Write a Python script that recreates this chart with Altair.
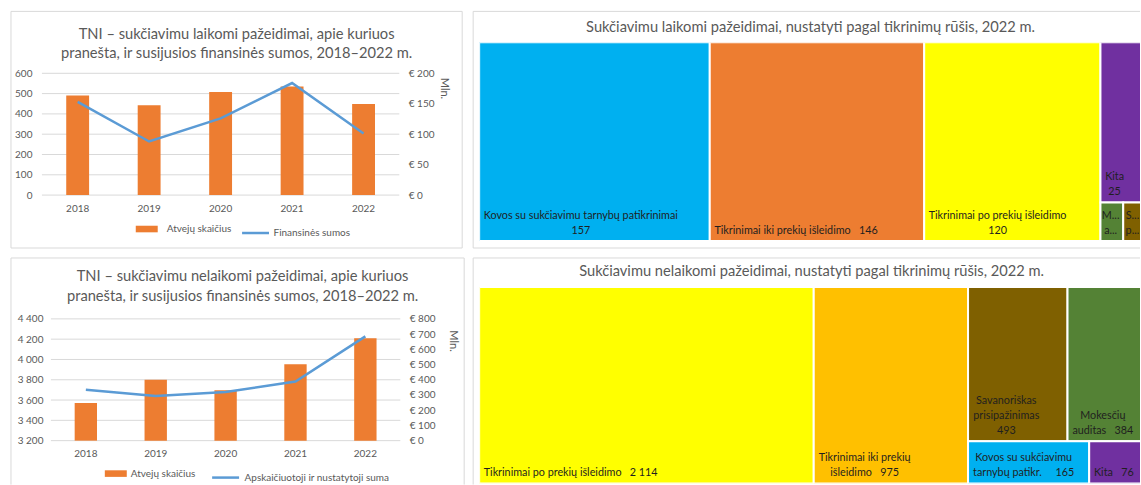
import altair as alt
import pandas as pd

# ---------------- data ----------------
years = ["2018", "2019", "2020", "2021", "2022"]
fraud_cases = [491, 442, 508, 535, 449]
fraud_sums = [153, 88, 126, 184, 101]
nonfraud_cases = [3571, 3800, 3696, 3954, 4210]
nonfraud_sums = [334, 293, 319, 389, 685]

title1 = "TNI – sukčiavimu laikomi pažeidimai, apie kuriuos\npranešta, ir susijusios finansinės sumos, 2018–2022 m."
title2 = "TNI – sukčiavimu nelaikomi pažeidimai, apie kuriuos\npranešta, ir susijusios finansinės sumos, 2018–2022 m."
title3 = "Sukčiavimu laikomi pažeidimai, nustatyti pagal tikrinimų rūšis, 2022 m."
title4 = "Sukčiavimu nelaikomi pažeidimai, nustatyti pagal tikrinimų rūšis, 2022 m."

bar_label = "Atvejų skaičius"
line_label1 = "Finansinės sumos"
line_label2 = "Apskaičiuotoji ir nustatytoji suma"

tm1_cats = ["Kovos su sukčiavimu tarnybų patikrinimai", "Tikrinimai iki prekių išleidimo",
            "Tikrinimai po prekių išleidimo", "Kita", "Mokesčių auditas", "Savanoriškas prisipažinimas"]
tm1_vals = [157, 146, 120, 25, 3, 3]
tm1_labels = ["Kovos su sukčiavimu tarnybų patikrinimai\n157", "Tikrinimai iki prekių išleidimo   146",
              "Tikrinimai po prekių išleidimo\n120", "Kita\n25", "M...\na...", "S...\np..."]
tm1_colors = ["#00B0F0", "#ED7D31", "#FFFF00", "#7030A0", "#548235", "#7F6000"]

tm2_cats = ["Tikrinimai po prekių išleidimo", "Tikrinimai iki prekių išleidimo", "Savanoriškas prisipažinimas",
            "Mokesčių auditas", "Kovos su sukčiavimu tarnybų patikrinimai", "Kita"]
tm2_vals = [2114, 975, 493, 384, 165, 76]
tm2_labels = ["Tikrinimai po prekių išleidimo   2 114", "Tikrinimai iki prekių\nišleidimo   975",
              "Savanoriškas\nprisipažinimas\n493", "Mokesčių\nauditas   384",
              "Kovos su sukčiavimu\ntarnybų patikr.     165", "Kita   76"]
tm2_colors = ["#FFFF00", "#FFC000", "#7F6000", "#548235", "#00B0F0", "#7030A0"]

# ---------------- styles ----------------
FONT = "Lato"
GRAY = "#595959"
BORDER = "#D9D9D9"
ORANGE = "#ED7D31"
BLUE = "#5B9BD5"
TITLE_FS = 14.7
LABEL_FS = 10.8

# approximate advance widths (em) of Lato, used only to centre label blocks
CHAR_EM = {}
for ch in "iljìíīįĮ.,:;'|!": CHAR_EM[ch] = 0.24
for ch in "ft": CHAR_EM[ch] = 0.34
for ch in "r": CHAR_EM[ch] = 0.37
for ch in "sšz": CHAR_EM[ch] = 0.43
for ch in "cčeė": CHAR_EM[ch] = 0.48
for ch in "aąkvyx": CHAR_EM[ch] = 0.5
for ch in "bdghnopquųū": CHAR_EM[ch] = 0.55
for ch in "mw": CHAR_EM[ch] = 0.82
for ch in "0123456789": CHAR_EM[ch] = 0.58
for ch in " \u00a0": CHAR_EM[ch] = 0.26


def text_w(line, fs):
    w = 0.0
    for ch in line:
        if ch in CHAR_EM:
            w += CHAR_EM[ch]
        elif ch.isupper():
            w += 0.8 if ch in "MW" else 0.62
        else:
            w += 0.5
    return w * fs


def est_w(s, fs):
    return max(text_w(l, fs) for l in s.split("\n"))


def border_rules(left, top, right, bottom, sides):
    layers = []
    d = pd.DataFrame({"k": [0]})
    segs = {
        "top": (left, top, right, top),
        "left": (left, top, left, bottom),
        "right": (right, top, right, bottom),
        "bottom": (left, bottom, right, bottom),
    }
    for s in sides:
        a, b, c, e = segs[s]
        layers.append(alt.Chart(d).mark_rule(color=BORDER, strokeWidth=1).encode(
            x=alt.value(a), y=alt.value(b), x2=alt.value(c), y2=alt.value(e)))
    return layers


def title_text(text, x, y, lh=19):
    return alt.Chart(pd.DataFrame({"t": [text]})).mark_text(
        font=FONT, fontSize=TITLE_FS, color=GRAY, align="center", baseline="middle",
        lineBreak="\n", lineHeight=lh).encode(x=alt.value(x), y=alt.value(y), text="t:N")


def bar_panel(cases, sums, line_label, title, W, H, xrange, yrange, ydom, ystep, rdom, rstep,
              thousands, yoffset, tpos, tlh, box, sides, leg_bar, leg_line, mln):
    df = pd.DataFrame({"year": years, "cases": cases, "sums": sums,
                       "sb": bar_label, "sl": line_label})
    ticks = list(range(ydom[0], ydom[1] + 1, ystep))
    yscale = alt.Scale(domain=ydom, nice=False, zero=False, range=yrange)
    xenc = alt.X("year:N", title=None,
                 scale=alt.Scale(paddingInner=0.68, paddingOuter=0.34, range=xrange),
                 axis=alt.Axis(labelAngle=0, domain=False, ticks=False, labelPadding=8))
    lab_expr = "replace(format(datum.value, ','), ',', ' ')" if thousands else "format(datum.value, 'd')"
    grid = alt.Chart(pd.DataFrame({"g": ticks})).mark_rule(color=BORDER, strokeWidth=1).encode(
        y=alt.Y("g:Q", scale=yscale, axis=None),
        x=alt.value(xrange[0]), x2=alt.value(xrange[1]))
    bars = alt.Chart(df).mark_bar(color=ORANGE).encode(
        x=xenc,
        y=alt.Y("cases:Q", scale=yscale,
                axis=alt.Axis(values=ticks, grid=False, domain=False, ticks=False, labelPadding=8,
                              offset=yoffset, labelExpr=lab_expr, title=None)),
        y2=alt.datum(ydom[0]),
        fill=alt.Fill("sb:N", scale=alt.Scale(domain=[bar_label], range=[ORANGE]),
                      legend=alt.Legend(orient="none", legendX=leg_bar[0], legendY=leg_bar[1],
                                        title=None, padding=0, labelOffset=leg_bar[2],
                                        symbolType="M-1,-0.3L1,-0.3L1,0.3L-1,0.3Z",
                                        symbolSize=484, symbolStrokeWidth=0)),
    )
    line = alt.Chart(df).mark_line(strokeWidth=2.5).encode(
        x=xenc,
        y=alt.Y("sums:Q", scale=alt.Scale(domain=rdom, nice=False, range=yrange),
                axis=alt.Axis(orient="right", values=list(range(rdom[0], rdom[1] + 1, rstep)),
                              grid=False, domain=False, ticks=False, labelPadding=9,
                              labelExpr="'€ ' + datum.value", title="Mln.",
                              titleAngle=90, titleX=mln[0], titleY=mln[1], titleAlign="left",
                              titleBaseline="middle", titleFontSize=11, titleFontWeight="normal",
                              titleColor=GRAY)),
        stroke=alt.Stroke("sl:N", scale=alt.Scale(domain=[line_label], range=[BLUE]),
                          legend=alt.Legend(orient="none", legendX=leg_line[0], legendY=leg_line[1],
                                            title=None, padding=0, labelOffset=leg_line[2],
                                            symbolType="stroke", symbolSize=729,
                                            symbolStrokeWidth=2.5)),
    )
    layers = [grid, bars, line, title_text(title, tpos[0], tpos[1], tlh)]
    layers += border_rules(box[0], box[1], box[2], box[3], sides)
    return alt.layer(*layers).resolve_scale(y="independent").properties(width=W, height=H)


def squarify(vals, W, H):
    total = float(sum(vals))
    areas = [v * W * H / total for v in vals]
    idx = sorted(range(len(vals)), key=lambda i: -vals[i])
    rects = [None] * len(vals)
    x, y, w, h = 0.0, 0.0, float(W), float(H)

    def worst(row, side):
        s = sum(row)
        return max(max(side * side * r / (s * s), s * s / (side * side * r)) for r in row)

    while idx:
        side = min(w, h)
        row = [idx[0]]
        k = 1
        while k < len(idx):
            cand = row + [idx[k]]
            if worst([areas[i] for i in cand], side) <= worst([areas[i] for i in row], side):
                row = cand
                k += 1
            else:
                break
        s = sum(areas[i] for i in row)
        if w >= h:
            cw = s / h
            yy = y
            for i in row:
                rh = areas[i] / cw
                rects[i] = (x, x + cw, yy, yy + rh)
                yy += rh
            x += cw
            w -= cw
        else:
            rh = s / w
            xx = x
            for i in row:
                rw = areas[i] / rh
                rects[i] = (xx, xx + rw, y, y + rh)
                xx += rw
            y += rh
            h -= rh
        idx = idx[k:]
    return rects


def treemap_panel(cats, vals, labels, colors, title, Wfull, Wvis, H, tpos, box, sides):
    rects = squarify(vals, Wfull, H)
    fs = LABEL_FS
    lh = 15
    rows = []
    for c, v, lab, r in zip(cats, vals, labels, rects):
        x0, x1, y0, y1 = r
        pad = 5 if (x1 - x0) > 40 else 2
        n = len(lab.split("\n"))
        rows.append({"cat": c, "value": v, "label": lab.replace(" ", "\u00a0"),
                     "x0": x0, "x1": x1, "y0": y0, "y1": y1,
                     "lx": x0 + pad + est_w(lab, fs) / 2, "ly": y1 - n * lh - 1.5})
    df = pd.DataFrame(rows)
    xs = alt.Scale(domain=[0, Wvis], nice=False, zero=False)
    ys = alt.Scale(domain=[0, H], nice=False, zero=False, reverse=True)
    rect = alt.Chart(df).mark_rect(clip=True, stroke="white", strokeWidth=2).encode(
        x=alt.X("x0:Q", scale=xs, axis=None), x2="x1:Q",
        y=alt.Y("y0:Q", scale=ys, axis=None), y2="y1:Q",
        color=alt.Color("cat:N", scale=alt.Scale(domain=cats, range=colors), legend=None),
        tooltip=["cat:N", "value:Q"],
    )
    text = alt.Chart(df).mark_text(clip=True, font=FONT, fontSize=fs, color="#1f1f1f",
                                   align="center", baseline="top", lineBreak="\n",
                                   lineHeight=lh).encode(
        x=alt.X("lx:Q", scale=xs, axis=None), y=alt.Y("ly:Q", scale=ys, axis=None), text="label:N")
    layers = [rect, text, title_text(title, tpos[0], tpos[1])]
    layers += border_rules(box[0], box[1], box[2], box[3], sides)
    return alt.layer(*layers).properties(width=Wvis, height=H)


p1 = bar_panel(fraud_cases, fraud_sums, line_label1, title1, W=358, H=153,
               xrange=[0, 358], yrange=[153, 31],
               ydom=[0, 600], ystep=100, rdom=[0, 200], rstep=50, thousands=False, yoffset=2,
               tpos=(195, -7), tlh=18.5, box=(-31, -31, 421, 206), sides=["top", "left", "right", "bottom"],
               leg_bar=(94, 176, 9), leg_line=(199, 176, 3), mln=(44, 35))
p2 = bar_panel(nonfraud_cases, nonfraud_sums, line_label2, title2, W=359, H=154,
               xrange=[9, 359], yrange=[154, 32],
               ydom=[3200, 4400], ystep=200, rdom=[0, 800], rstep=100, thousands=True, yoffset=-9,
               tpos=(201, -10), tlh=20, box=(-31, -29, 423, 198), sides=["top", "left", "right"],
               leg_bar=(63, 176, 4), leg_line=(169, 176, 4), mln=(52, 43))
p3 = treemap_panel(tm1_cats, tm1_vals, tm1_labels, tm1_colors, title3, Wfull=668, Wvis=662, H=199,
                   tpos=(332, -14), box=(-6, -31, 662, 206), sides=["top", "left", "bottom"])
p4 = treemap_panel(tm2_cats, tm2_vals, tm2_labels, tm2_colors, title4, Wfull=667, Wvis=662, H=197,
                   tpos=(333, -15), box=(-6, -29, 662, 198), sides=["top", "left"])

chart = alt.concat(p1, p3, p2, p4, columns=2, spacing={"row": 8, "column": 7},
                   bounds="full", align="each").resolve_scale(
    fill="independent", stroke="independent", color="independent"
).properties(
    padding={"left": 10, "top": 10, "right": 0, "bottom": 0},
    background="white",
).configure_view(strokeWidth=0).configure_axis(
    labelFont=FONT, titleFont=FONT, labelColor=GRAY, labelFontSize=10,
).configure_legend(labelFont=FONT, labelFontSize=10, labelColor=GRAY)

chart.save("out.html", embed_options={"renderer": "svg", "actions": False})
